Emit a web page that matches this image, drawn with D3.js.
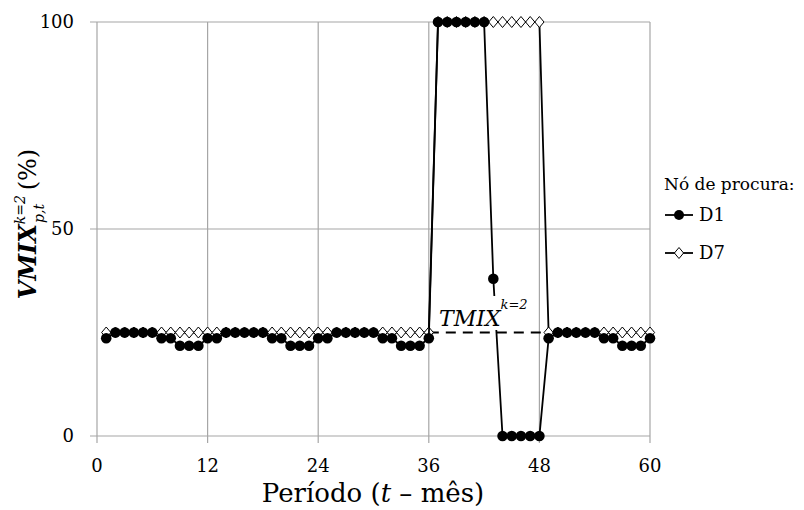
<!DOCTYPE html>
<html>
<head>
<meta charset="utf-8">
<script src="https://cdn.jsdelivr.net/npm/d3@7"></script>
<style>
  body { margin: 0; background: #fff; }
  text { font-family: "DejaVu Serif", serif; fill: #000; }
</style>
</head>
<body>
<script>
var months = [1, 2, 3, 4, 5, 6, 7, 8, 9, 10, 11, 12,
              13, 14, 15, 16, 17, 18, 19, 20, 21, 22, 23, 24,
              25, 26, 27, 28, 29, 30, 31, 32, 33, 34, 35, 36,
              37, 38, 39, 40, 41, 42, 43, 44, 45, 46, 47, 48,
              49, 50, 51, 52, 53, 54, 55, 56, 57, 58, 59, 60];

var d1 = [23.6, 25, 25, 25, 25, 25, 23.6, 23.6, 21.8, 21.8, 21.8, 23.6,
          23.6, 25, 25, 25, 25, 25, 23.6, 23.6, 21.8, 21.8, 21.8, 23.6,
          23.6, 25, 25, 25, 25, 25, 23.6, 23.6, 21.8, 21.8, 21.8, 23.6,
          100, 100, 100, 100, 100, 100, 38, 0, 0, 0, 0, 0,
          23.6, 25, 25, 25, 25, 25, 23.6, 23.6, 21.8, 21.8, 21.8, 23.6];

var d7 = [25, 25, 25, 25, 25, 25, 25, 25, 25, 25, 25, 25,
          25, 25, 25, 25, 25, 25, 25, 25, 25, 25, 25, 25,
          25, 25, 25, 25, 25, 25, 25, 25, 25, 25, 25, 25,
          100, 100, 100, 100, 100, 100, 100, 100, 100, 100, 100, 100,
          25, 25, 25, 25, 25, 25, 25, 25, 25, 25, 25, 25];

var tmix = 25;
var tmixRange = [36, 49];
var xTicks = [0, 12, 24, 36, 48, 60];
var yTicks = [0, 50, 100];

var WIDTH = 804, HEIGHT = 510;
var plotLeft = 97, plotTop = 22, plotRight = 650, plotBottom = 436;

var svg = d3.select('body').append('svg')
            .attr('width', WIDTH)
            .attr('height', HEIGHT);

var x = d3.scaleLinear().domain([0, 60]).range([plotLeft, plotRight]);
var y = d3.scaleLinear().domain([0, 100]).range([plotBottom, plotTop]);

// grid
svg.append('g').selectAll('line').data(xTicks).enter().append('line')
   .attr('x1', x).attr('x2', x).attr('y1', plotTop).attr('y2', plotBottom + 7)
   .attr('stroke', '#a6a6a6').attr('stroke-width', 1.2);
svg.append('g').selectAll('line').data(yTicks).enter().append('line')
   .attr('x1', plotLeft - 7).attr('x2', plotRight).attr('y1', y).attr('y2', y)
   .attr('stroke', '#a6a6a6').attr('stroke-width', 1.2);

// tick labels
svg.append('g').selectAll('text').data(xTicks).enter().append('text')
   .attr('x', x).attr('y', 472)
   .attr('text-anchor', 'middle').attr('font-size', 18)
   .text(function(d) { return d; });
svg.append('g').selectAll('text').data(yTicks).enter().append('text')
   .attr('x', 74).attr('y', function(d) { return y(d) + 6; })
   .attr('text-anchor', 'end').attr('font-size', 18)
   .text(function(d) { return d; });

// axis titles
var xt = svg.append('text').attr('x', 373).attr('y', 502)
            .attr('text-anchor', 'middle').attr('font-size', 26);
xt.append('tspan').text('Período (');
xt.append('tspan').attr('font-style', 'italic').text('t');
xt.append('tspan').text('\u00a0– mês)');

var yt = svg.append('text')
            .attr('transform', 'translate(36,' + 224 + ') rotate(-90)')
            .attr('text-anchor', 'middle').attr('font-size', 24);
yt.append('tspan').attr('font-style', 'italic').attr('font-weight', 'bold').text('VMIX');
yt.append('tspan').attr('font-style', 'italic').attr('font-size', 14).attr('dy', -11).text('k=2');
yt.append('tspan').attr('font-style', 'italic').attr('font-size', 14).attr('dx', -28).attr('dy', 19).text('p,t');
yt.append('tspan').attr('dx', 6).attr('dy', -8).text('\u00a0(%)');

// TMIX reference
svg.append('line')
   .attr('x1', x(tmixRange[0])).attr('x2', x(tmixRange[1]))
   .attr('y1', y(tmix)).attr('y2', y(tmix))
   .attr('stroke', '#000').attr('stroke-width', 2)
   .attr('stroke-dasharray', '10,7');

var line = d3.line()
             .x(function(d) { return x(d[0]); })
             .y(function(d) { return y(d[1]); });

var d7pts = months.map(function(m, i) { return [m, d7[i]]; });
var d1pts = months.map(function(m, i) { return [m, d1[i]]; });

var diamondPath = 'M0,-5.5L4.6,0L0,5.5L-4.6,0Z';

svg.append('path').datum(d7pts).attr('d', line)
   .attr('fill', 'none').attr('stroke', '#000').attr('stroke-width', 1.8);
svg.append('g').selectAll('path').data(d7pts).enter().append('path')
   .attr('d', diamondPath)
   .attr('transform', function(d) { return 'translate(' + x(d[0]) + ',' + y(d[1]) + ')'; })
   .attr('fill', '#fff').attr('stroke', '#000').attr('stroke-width', 1);

svg.append('path').datum(d1pts).attr('d', line)
   .attr('fill', 'none').attr('stroke', '#000').attr('stroke-width', 1.8);
svg.append('g').selectAll('circle').data(d1pts).enter().append('circle')
   .attr('cx', function(d) { return x(d[0]); })
   .attr('cy', function(d) { return y(d[1]); })
   .attr('r', 5.3).attr('fill', '#000');

// TMIX label with white box
svg.append('rect').attr('x', 437).attr('y', 296).attr('width', 96).attr('height', 34)
   .attr('fill', '#fff');
var tl = svg.append('text').attr('x', 439).attr('y', 326).attr('font-size', 22)
            .attr('font-style', 'italic');
tl.append('tspan').text('TMIX');
tl.append('tspan').attr('font-size', 13).attr('dy', -17).text('k=2');

// legend
svg.append('text').attr('x', 664).attr('y', 190).attr('font-size', 17).text('Nó de procura:');
var leg = svg.append('g');
leg.append('line').attr('x1', 665).attr('x2', 693).attr('y1', 215).attr('y2', 215)
   .attr('stroke', '#000').attr('stroke-width', 1.8);
leg.append('circle').attr('cx', 679).attr('cy', 215).attr('r', 5).attr('fill', '#000');
leg.append('text').attr('x', 699).attr('y', 221).attr('font-size', 18).text('D1');
leg.append('line').attr('x1', 665).attr('x2', 693).attr('y1', 253).attr('y2', 253)
   .attr('stroke', '#000').attr('stroke-width', 1.8);
leg.append('path').attr('d', diamondPath)
   .attr('transform', 'translate(679,253)')
   .attr('fill', '#fff').attr('stroke', '#000').attr('stroke-width', 1);
leg.append('text').attr('x', 699).attr('y', 259).attr('font-size', 18).text('D7');
</script>
</body>
</html>
